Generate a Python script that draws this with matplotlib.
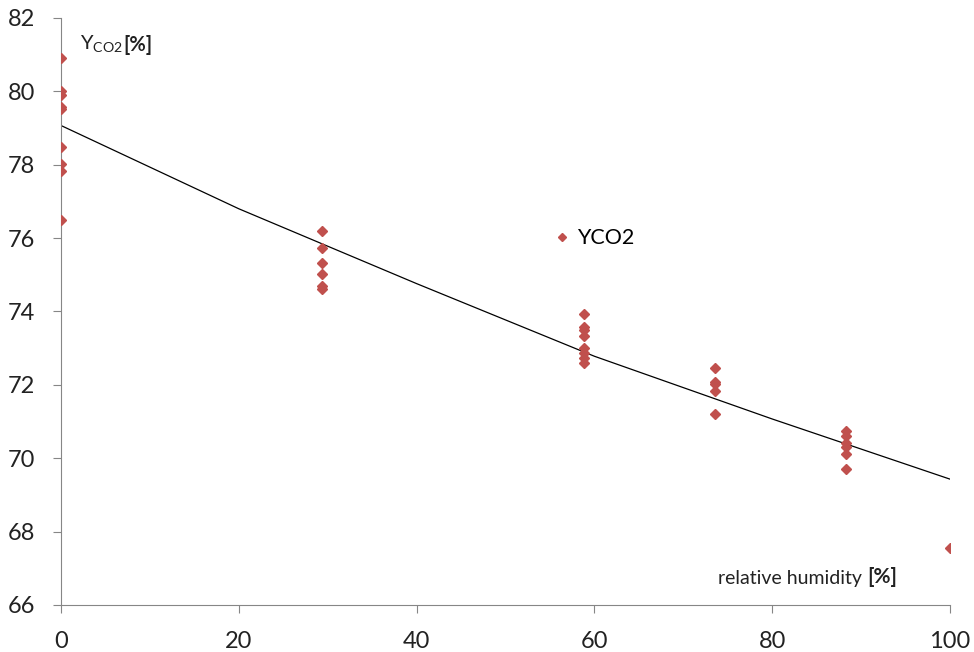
import matplotlib
matplotlib.use("Agg")
import matplotlib.pyplot as plt

plt.rcParams["font.family"] = ["Lato", "DejaVu Sans"]

# relative humidity [%] and Y_CO2 [%]
rh = [0] * 9 + [29.4] * 6 + [58.8] * 8 + [73.6] * 5 + [88.3] * 6 + [100]
yco2 = [80.92, 80.02, 79.90, 79.58, 79.51, 78.49, 78.02, 77.83, 76.50,
        76.20, 75.72, 75.33, 75.02, 74.70, 74.62,
        73.93, 73.59, 73.50, 73.32, 73.00, 72.88, 72.73, 72.59,
        72.45, 72.09, 72.02, 71.82, 71.21,
        70.73, 70.61, 70.41, 70.32, 70.11, 69.72,
        67.56]

# trend curve
trend_rh = [0, 20, 40, 60, 80, 100]
trend_y = [79.07, 76.80, 74.76, 72.78, 71.07, 69.43]

xticks = [0, 20, 40, 60, 80, 100]
yticks = [66, 68, 70, 72, 74, 76, 78, 80, 82]

RED = "#C0504D"
GRAY = "#868686"
TXT = "#222222"

fig = plt.figure(figsize=(9.74, 6.52), dpi=100)
ax = fig.add_axes([0.0626, 0.0721, 0.9128, 0.9003])

ax.plot(rh, yco2, linestyle="none", marker="D", markersize=5.5,
        color=RED, label="YCO2", zorder=3)
ax.plot(trend_rh, trend_y, color="black", linewidth=0.9, zorder=2)

ax.set_xlim(0, 100)
ax.set_ylim(66, 82)
ax.set_xticks(xticks)
ax.set_yticks(yticks)
for s in ["top", "right"]:
    ax.spines[s].set_visible(False)
for s in ["left", "bottom"]:
    ax.spines[s].set_color(GRAY)
ax.tick_params(colors=GRAY, labelcolor=TXT, labelsize=17, length=5.5,
               direction="out")
ax.tick_params(axis="y", pad=13)
ax.tick_params(axis="x", pad=13)

t = ax.text(0.021, 0.955, r"Y$_\mathregular{CO2}$ ", transform=ax.transAxes,
            fontsize=14.5, va="center", color=TXT)
ax.annotate("[%]", xy=(1, 0), xycoords=t, va="bottom", fontsize=14.5,
            fontweight="bold", color=TXT)

t2 = ax.text(0.739, 0.045, "relative humidity ", transform=ax.transAxes,
             fontsize=14, va="center", color=TXT)
ax.annotate("[%]", xy=(1, 0), xycoords=t2, va="bottom", fontsize=15,
            fontweight="bold", color=TXT)

ax.legend(loc="center", bbox_to_anchor=(0.601, 0.625), frameon=False,
          fontsize=15.5, handlelength=0.6, handletextpad=0.4,
          markerscale=0.75)

fig.savefig("out.png", dpi=100)
